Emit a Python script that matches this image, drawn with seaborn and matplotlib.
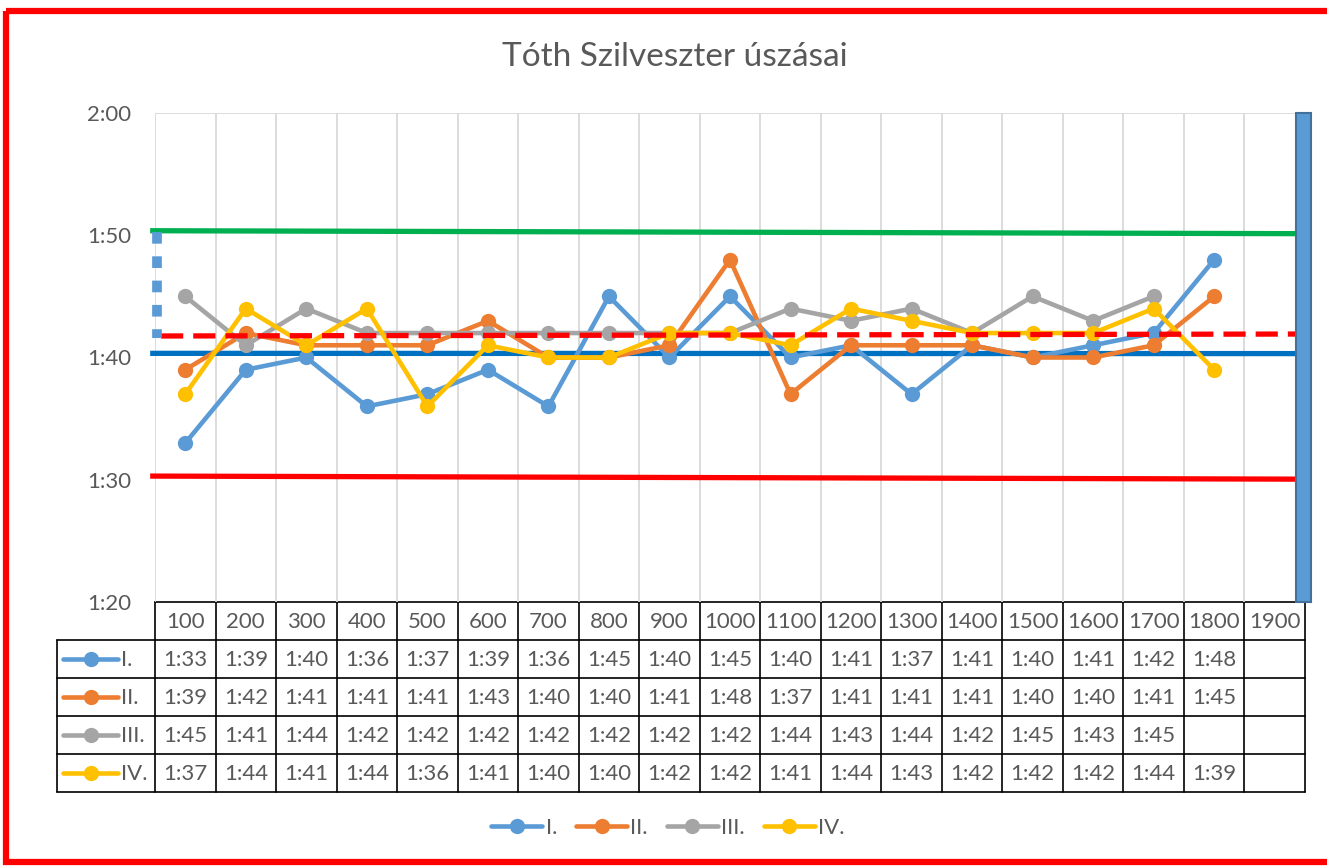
import matplotlib
matplotlib.use("Agg")
import matplotlib.pyplot as plt
import numpy as np
import pandas as pd
import seaborn as sns
from matplotlib.lines import Line2D
from matplotlib.patches import Rectangle

W, H = 1327, 866

TITLE = "Tóth Szilveszter úszásai"
distances = [100, 200, 300, 400, 500, 600, 700, 800, 900, 1000,
             1100, 1200, 1300, 1400, 1500, 1600, 1700, 1800, 1900]
swim_labels = ["I.", "II.", "III.", "IV."]
times_1 = ["1:33", "1:39", "1:40", "1:36", "1:37", "1:39", "1:36", "1:45", "1:40", "1:45",
           "1:40", "1:41", "1:37", "1:41", "1:40", "1:41", "1:42", "1:48", ""]
times_2 = ["1:39", "1:42", "1:41", "1:41", "1:41", "1:43", "1:40", "1:40", "1:41", "1:48",
           "1:37", "1:41", "1:41", "1:41", "1:40", "1:40", "1:41", "1:45", ""]
times_3 = ["1:45", "1:41", "1:44", "1:42", "1:42", "1:42", "1:42", "1:42", "1:42", "1:42",
           "1:44", "1:43", "1:44", "1:42", "1:45", "1:43", "1:45", "", ""]
times_4 = ["1:37", "1:44", "1:41", "1:44", "1:36", "1:41", "1:40", "1:40", "1:42", "1:42",
           "1:41", "1:44", "1:43", "1:42", "1:42", "1:42", "1:44", "1:39", ""]
series_colors = ["#5B9BD5", "#ED7D31", "#A5A5A5", "#FFC000"]

# reference lines, value at left end / right end (seconds)
upper_limit = [110.37, 110.13]
target_line = [100.34, 100.32]
lower_limit = [90.3, 90.05]
average_line = [101.76, 101.92]
spread_marker = [110.3, 101.6]
side_bar = [80, 120]
y_tick_labels = ["1:20", "1:30", "1:40", "1:50", "2:00"]

TEXT = "#595959"
GRID = "#D9D9D9"
FS = 16


def to_sec(t):
    if not t:
        return np.nan
    m, s = t.split(":")
    return int(m) * 60 + int(s)


def px(x):
    return x / W


def py(y):
    return 1 - y / H


all_times = [times_1, times_2, times_3, times_4]
rows = []
for lab, ts in zip(swim_labels, all_times):
    for i, t in enumerate(ts):
        rows.append({"pos": i + 0.5, "sec": to_sec(t), "swim": lab})
df = pd.DataFrame(rows).dropna()

sns.set_theme(style="white")
plt.rcParams["font.family"] = ["Lato", "DejaVu Sans"]

fig = plt.figure(figsize=(W / 100, H / 100), dpi=100)
fig.patch.set_facecolor("white")

# pixel-space overlay for table and frame
pax = fig.add_axes([0, 0, 1, 1], zorder=0)
pax.set_xlim(0, W)
pax.set_ylim(H, 0)
pax.axis("off")

ax = fig.add_axes([px(155), py(602), px(1305 - 155), (602 - 113) / H], zorder=1)
ax.set_facecolor("none")
n = len(distances)
ax.set_xlim(0, n)
ax.set_ylim(80, 120)
for s in ax.spines.values():
    s.set_visible(False)
for i in range(n + 1):
    ax.axvline(i, color=GRID, lw=1.3, zorder=0)
ax.axhline(120, color=GRID, lw=1.3, zorder=0)
ax.set_xticks([])
ax.set_yticks(range(80, 121, 10))
ax.set_yticklabels(y_tick_labels)
ax.tick_params(axis="y", length=0, pad=17, labelsize=FS, labelcolor=TEXT)

# reference lines
ax.plot([-0.08, 18.84], upper_limit, color="#00B050", lw=3.8, solid_capstyle="butt", clip_on=False, zorder=2)
ax.plot([-0.08, 18.84], target_line, color="#0070C0", lw=3.8, solid_capstyle="butt", clip_on=False, zorder=2)
ax.plot([-0.08, 18.84], lower_limit, color="#FF0000", lw=3.8, solid_capstyle="butt", clip_on=False, zorder=2)
ax.plot([0.1, 18.95], average_line, color="#FF0000", lw=3.8, ls=(0, (4.2, 1.9)), clip_on=False, zorder=4)
ax.plot([0.03, 0.03], spread_marker, color="#5B9BD5", lw=7, ls=(0, (1.2, 1.3)),
        dash_capstyle="butt", clip_on=False, zorder=4)

sns.lineplot(data=df, x="pos", y="sec", hue="swim", palette=series_colors,
             marker="o", markersize=11, markeredgewidth=0, linewidth=3.3,
             estimator=None, sort=False, legend=False, ax=ax, zorder=3)
ax.set_xlabel("")
ax.set_ylabel("")

ax.bar([18.97], [side_bar[1] - side_bar[0]], bottom=side_bar[0], width=0.25,
       color="#5B9BD5", edgecolor="#41719C", lw=1.5, clip_on=False, zorder=5)

# data table
col_w = (1305 - 155) / n
row_y = [602, 640, 678, 716, 754, 792]
lc = "black"
lw_t = 1.2
pax.plot([155, 1305], [row_y[0], row_y[0]], color=lc, lw=lw_t)
for y in row_y[1:]:
    pax.plot([57, 1305], [y, y], color=lc, lw=lw_t)
pax.plot([57, 57], [row_y[1], row_y[-1]], color=lc, lw=lw_t)
for i in range(n + 1):
    x = 155 + i * col_w
    pax.plot([x, x], [row_y[0], row_y[-1]], color=lc, lw=lw_t)
for i, d in enumerate(distances):
    pax.text(155 + (i + 0.5) * col_w, (row_y[0] + row_y[1]) / 2 + 1, str(d),
             ha="center", va="center", fontsize=FS, color=TEXT)
for r, (lab, ts, c) in enumerate(zip(swim_labels, all_times, series_colors)):
    yc = (row_y[r + 1] + row_y[r + 2]) / 2 + 1
    pax.plot([63, 118], [yc - 1, yc - 1], color=c, lw=3.3, solid_capstyle="round")
    pax.plot([91], [yc - 1], marker="o", color=c, markersize=11, markeredgewidth=0)
    pax.text(121, yc, lab, ha="left", va="center", fontsize=FS, color=TEXT)
    for i, t in enumerate(ts):
        if t:
            pax.text(155 + (i + 0.5) * col_w, yc, t, ha="center", va="center",
                     fontsize=FS, color=TEXT)

# title
fig.text(px(675), py(57), TITLE, ha="center", va="center", fontsize=24, color=TEXT)

# legend
handles = [Line2D([0], [0], color=c, lw=3.3, marker="o", markersize=11, markeredgewidth=0)
           for c in series_colors]
fig.legend(handles, swim_labels, loc="center", bbox_to_anchor=(px(668), py(828)),
           ncol=4, frameon=False, fontsize=FS, labelcolor=TEXT, handlelength=2.3,
           handletextpad=0.15, columnspacing=0.85)

# red frame
pax.add_patch(Rectangle((6, 11), 1400, 851, fill=False, edgecolor="#FF0000", lw=4.5, clip_on=False))

fig.savefig("out.png", dpi=100, facecolor="white")
